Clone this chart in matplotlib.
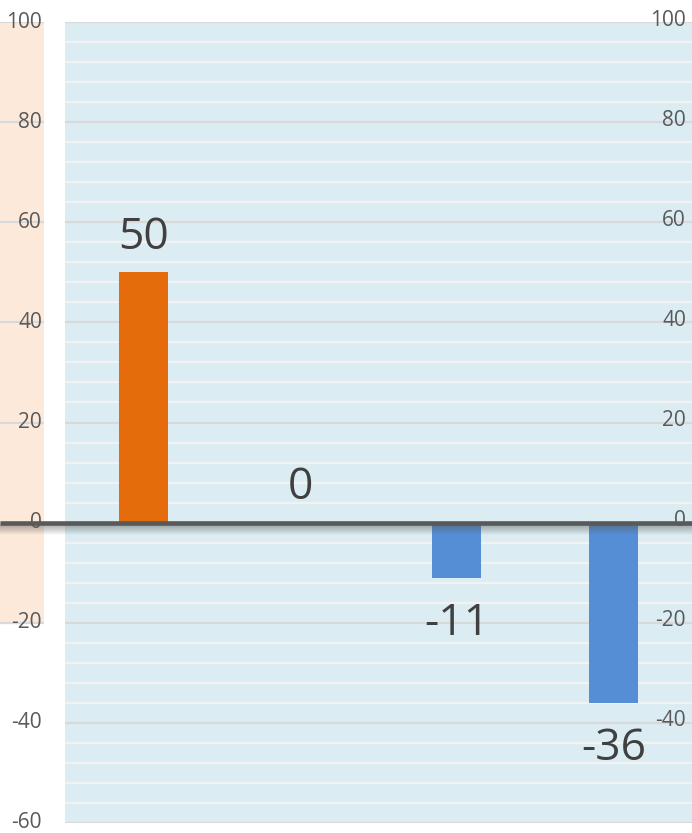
import matplotlib
matplotlib.use("Agg")
import matplotlib.pyplot as plt
import matplotlib.transforms as mtransforms

plt.rcParams['font.family'] = ['Open Sans', 'DejaVu Sans']

# data
categories = ["A", "B", "C", "D"]
values = [50, 0, -11, -36]
bar_colors = ["#E46C0A", "#E46C0A", "#558ED5", "#558ED5"]
left_ticks = [100, 80, 60, 40, 20, 0, -20, -40, -60]
right_ticks = [100, 80, 60, 40, 20, 0, -20, -40]

W, H = 692, 833
fig = plt.figure(figsize=(W / 100, H / 100), dpi=100)
fig.patch.set_facecolor("white")

y_top_px, y_bot_px = 22, 823
bottom = (H - y_bot_px) / H
height = (y_bot_px - y_top_px) / H

# main plot area (light blue)
ax = fig.add_axes([65 / W, bottom, (W - 65) / W, height])
ax.set_facecolor("#DBEDF3")
ax.set_xlim(-0.5, 3.5)
ax.set_ylim(-60, 100)
for s in ax.spines.values():
    s.set_visible(False)
ax.set_xticks([])
ax.set_yticks([])

# minor gridlines every 4, major every 20
for v in range(-60, 101, 4):
    if v % 20:
        ax.axhline(v, color="#F2F2F2", lw=1.6, zorder=1)
for v in range(-60, 101, 20):
    ax.axhline(v, color="#D9D9D9", lw=1.6, zorder=1)

x = list(range(len(categories)))
ax.bar(x, values, width=49 / 157, color=bar_colors, zorder=3)

# value labels
for xi, v in zip(x, values):
    if v >= 0:
        ax.annotate(str(v), (xi, v), xytext=(0, 17), textcoords="offset points",
                    ha="center", va="baseline", fontsize=32, color="#404040", zorder=5)
    else:
        ax.annotate(str(v), (xi, v), xytext=(0, -41.5), textcoords="offset points",
                    ha="center", va="baseline", fontsize=32, color="#404040", zorder=5)

# left strip (peach) with its own gridlines
axl = fig.add_axes([0, bottom, 44 / W, height])
axl.set_xlim(0, 1)
axl.set_ylim(-60, 100)
axl.axis("off")
axl.axhspan(-20, 100, color="#FDE9DA", lw=0, zorder=0)
for v in range(-20, 101, 20):
    axl.axhline(v, color="#D9D9D9", lw=1.6, zorder=1)

# tick labels on both sides
tl = mtransforms.blended_transform_factory(fig.transFigure, ax.transData)
for v in left_ticks:
    fig.text(42 / W, 0, str(v), transform=tl, ha="right", va="center",
             fontsize=15, color="#595959", zorder=6).set_y(v)
up = mtransforms.ScaledTranslation(0, 2 / 100, fig.dpi_scale_trans)
for v in right_ticks:
    fig.text(686 / W, 0, str(v), transform=tl + up, ha="right", va="center",
             fontsize=15, color="#595959", zorder=6).set_y(v)

# zero axis line with a soft shadow underneath
for i in range(1, 11):
    sh = mtransforms.ScaledTranslation(0, -(1.5 + i) / 100, fig.dpi_scale_trans)
    fig.add_artist(plt.Line2D([0, 1], [0, 0], transform=tl + sh, color="#595959",
                              lw=1.2, alpha=0.35 * (1 - i / 11), zorder=7))
fig.add_artist(plt.Line2D([0, 1], [0, 0], transform=tl, color="#595959",
                          lw=3.3, solid_capstyle="butt", zorder=8))

fig.savefig("out.png", dpi=100)
